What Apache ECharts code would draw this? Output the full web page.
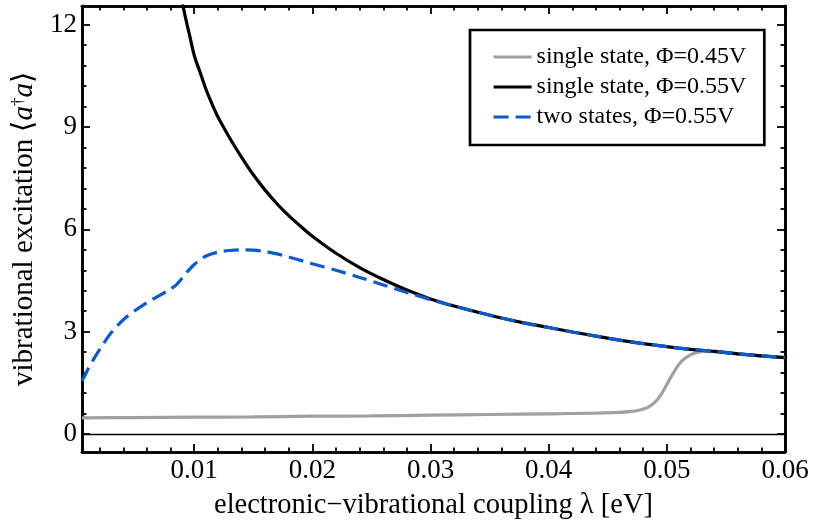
<!DOCTYPE html>
<html>
<head>
<meta charset="utf-8">
<script src="https://cdn.jsdelivr.net/npm/echarts@6/dist/echarts.min.js"></script>
<style>html,body{margin:0;padding:0;background:#fff}#c{width:813px;height:525px}</style>
</head>
<body>
<div id="c"></div>
<script>
// ---- data ----
const seriesNames = ['single state, \u03A6=0.45V', 'single state, \u03A6=0.55V', 'two states, \u03A6=0.55V'];

const graySingle045 = [
  [0.0005, 0.47], [0.005, 0.48], [0.010, 0.49], [0.015, 0.50], [0.020, 0.52], [0.025, 0.53],
  [0.030, 0.55], [0.035, 0.57], [0.040, 0.59], [0.044, 0.61], [0.046, 0.63], [0.047, 0.66],
  [0.0478, 0.71], [0.0484, 0.78], [0.0490, 0.93], [0.0495, 1.15], [0.0500, 1.45], [0.0505, 1.76],
  [0.0510, 2.03], [0.0515, 2.21], [0.0520, 2.32], [0.0525, 2.38], [0.0530, 2.41], [0.0540, 2.42],
  [0.0560, 2.35], [0.0580, 2.29], [0.0600, 2.24]
];

const blackSingle055 = [
  [0.0088, 13.0], [0.0092, 12.3], [0.0096, 11.7], [0.0100, 11.1], [0.0105, 10.6], [0.0110, 10.1],
  [0.0115, 9.68], [0.0120, 9.3], [0.0130, 8.68], [0.0140, 8.12], [0.0150, 7.6], [0.0160, 7.15],
  [0.0170, 6.75], [0.0180, 6.4], [0.0190, 6.09], [0.0200, 5.8], [0.0220, 5.3], [0.0240, 4.88],
  [0.0260, 4.53], [0.0280, 4.22], [0.0300, 3.96], [0.0320, 3.75], [0.0340, 3.57], [0.0360, 3.40],
  [0.0380, 3.25], [0.0400, 3.12], [0.0420, 2.99], [0.0440, 2.87], [0.0460, 2.75], [0.0480, 2.65],
  [0.0500, 2.56], [0.0520, 2.48], [0.0540, 2.42], [0.0560, 2.35], [0.0580, 2.29], [0.0600, 2.24]
];

const blueTwo055 = [
  [0.0005, 1.55], [0.0007, 1.68], [0.0010, 1.9], [0.0015, 2.2], [0.0020, 2.48], [0.0030, 2.98],
  [0.0040, 3.35], [0.0050, 3.62], [0.0060, 3.85], [0.0070, 4.05], [0.0080, 4.25], [0.0085, 4.38],
  [0.0090, 4.58], [0.0095, 4.79], [0.0100, 4.97], [0.0105, 5.11], [0.0110, 5.22], [0.0120, 5.33],
  [0.0130, 5.38], [0.0140, 5.40], [0.0150, 5.39], [0.0160, 5.35], [0.0170, 5.28], [0.0180, 5.19],
  [0.0190, 5.09], [0.0200, 4.99], [0.0220, 4.80], [0.0240, 4.59], [0.0260, 4.37], [0.0280, 4.15],
  [0.0300, 3.94], [0.0320, 3.75], [0.0340, 3.57], [0.0360, 3.40], [0.0380, 3.25], [0.0400, 3.12],
  [0.0420, 2.99], [0.0440, 2.87], [0.0460, 2.75], [0.0480, 2.65], [0.0500, 2.56], [0.0520, 2.48],
  [0.0540, 2.42], [0.0560, 2.35], [0.0580, 2.29], [0.0600, 2.24]
];

const xMajorTicks = [0.01, 0.02, 0.03, 0.04, 0.05, 0.06];
const xMinorTicks = [0.002, 0.004, 0.006, 0.008, 0.012, 0.014, 0.016, 0.018, 0.022, 0.024, 0.026, 0.028,
  0.032, 0.034, 0.036, 0.038, 0.042, 0.044, 0.046, 0.048, 0.052, 0.054, 0.056, 0.058];
const yMajorTicks = [0, 3, 6, 9, 12];
const yMinorTicks = [0.6, 1.2, 1.8, 2.4, 3.6, 4.2, 4.8, 5.4, 6.6, 7.2, 7.8, 8.4, 9.6, 10.2, 10.8, 11.4];

const X_MIN = 0.0005, X_MAX = 0.06, Y_MIN = -0.53, Y_MAX = 12.55;

// ---- chart ----
const FONT = 'Liberation Serif';
const chart = echarts.init(document.getElementById('c'), null, { renderer: 'canvas' });

function xAxisDef(pos, values, len, labels) {
  return {
    type: 'value', position: pos, min: X_MIN, max: X_MAX,
    axisLine: { show: true, onZero: false, lineStyle: { color: '#000', width: 2.7 } },
    axisTick: { show: true, inside: true, length: len, customValues: values, lineStyle: { color: '#000', width: 1.8 } },
    axisLabel: labels ? { show: true, customValues: values, margin: 5, color: '#000', fontFamily: FONT, fontSize: 27,
      formatter: v => v.toFixed(2) } : { show: false },
    splitLine: { show: false }
  };
}
function yAxisDef(pos, values, len, labels) {
  return {
    type: 'value', position: pos, min: Y_MIN, max: Y_MAX,
    axisLine: { show: true, onZero: false, lineStyle: { color: '#000', width: 2.7 } },
    axisTick: { show: true, inside: true, length: len, customValues: values, lineStyle: { color: '#000', width: 1.8 } },
    axisLabel: labels ? { show: true, customValues: values, margin: 5, color: '#000', fontFamily: FONT, fontSize: 27,
      formatter: v => String(Math.round(v)) } : { show: false },
    splitLine: { show: false }
  };
}

const xAxes = [
  xAxisDef('bottom', xMajorTicks, 8, true),
  xAxisDef('bottom', xMinorTicks, 4.5, false),
  xAxisDef('top', xMajorTicks, 8, false),
  xAxisDef('top', xMinorTicks, 4.5, false)
];
Object.assign(xAxes[0], {
  name: 'electronic\u2212vibrational coupling \u03BB [eV]',
  nameLocation: 'middle', nameGap: 39,
  nameTextStyle: { color: '#000', fontFamily: FONT, fontSize: 28.5 }
});
const yAxes = [
  yAxisDef('left', yMajorTicks, 8, true),
  yAxisDef('left', yMinorTicks, 4.5, false),
  yAxisDef('right', yMajorTicks, 8, false),
  yAxisDef('right', yMinorTicks, 4.5, false)
];
Object.assign(yAxes[0], {
  name: 'vibrational excitation \u27E8{i|a}{s|\u2020}{i|a}\u27E9',
  nameLocation: 'middle', nameGap: 38, nameRotate: 90,
  nameTextStyle: { color: '#000', fontFamily: FONT, fontSize: 29,
    rich: {
      i: { fontFamily: FONT, fontStyle: 'italic', fontSize: 29, color: '#000' },
      s: { fontFamily: FONT, fontSize: 17, color: '#000', padding: [0, 0, 13, 0] }
    }
  }
});

chart.setOption({
  animation: false,
  backgroundColor: '#fff',
  grid: { left: 82, right: 28, top: 6, bottom: 71, containLabel: false },
  xAxis: xAxes,
  yAxis: yAxes,
  legend: {
    orient: 'vertical', left: 470, top: 30,
    padding: [15, 18, 16, 22],
    borderColor: '#000', borderWidth: 2.7, backgroundColor: '#fff',
    itemWidth: 38, itemHeight: 20, itemGap: 6,
    itemStyle: { opacity: 0 },
    lineStyle: { width: 3.2 },
    textStyle: { fontFamily: FONT, fontSize: 24, lineHeight: 24, color: '#000' },
    data: seriesNames
  },
  series: [
    {
      name: seriesNames[0], type: 'line', data: graySingle045, showSymbol: false, symbol: 'none',
      smooth: 0.3,
      lineStyle: { color: '#a0a0a0', width: 3.2 }, itemStyle: { color: '#a0a0a0' }, clip: true, z: 2,
      markLine: { silent: true, symbol: 'none', label: { show: false }, animation: false,
        lineStyle: { color: '#000', width: 1.3, type: 'solid' }, data: [{ yAxis: 0 }] }
    },
    {
      name: seriesNames[1], type: 'line', data: blackSingle055, showSymbol: false, symbol: 'none',
      smooth: 0.3,
      lineStyle: { color: '#000', width: 3.2 }, itemStyle: { color: '#000' }, clip: true, z: 3
    },
    {
      name: seriesNames[2], type: 'line', data: blueTwo055, showSymbol: false, symbol: 'none',
      smooth: 0.3,
      lineStyle: { color: '#0a5ad2', width: 3.2, type: [15, 7] }, itemStyle: { color: '#0a5ad2' }, clip: true, z: 4
    }
  ]
});
</script>
</body>
</html>
